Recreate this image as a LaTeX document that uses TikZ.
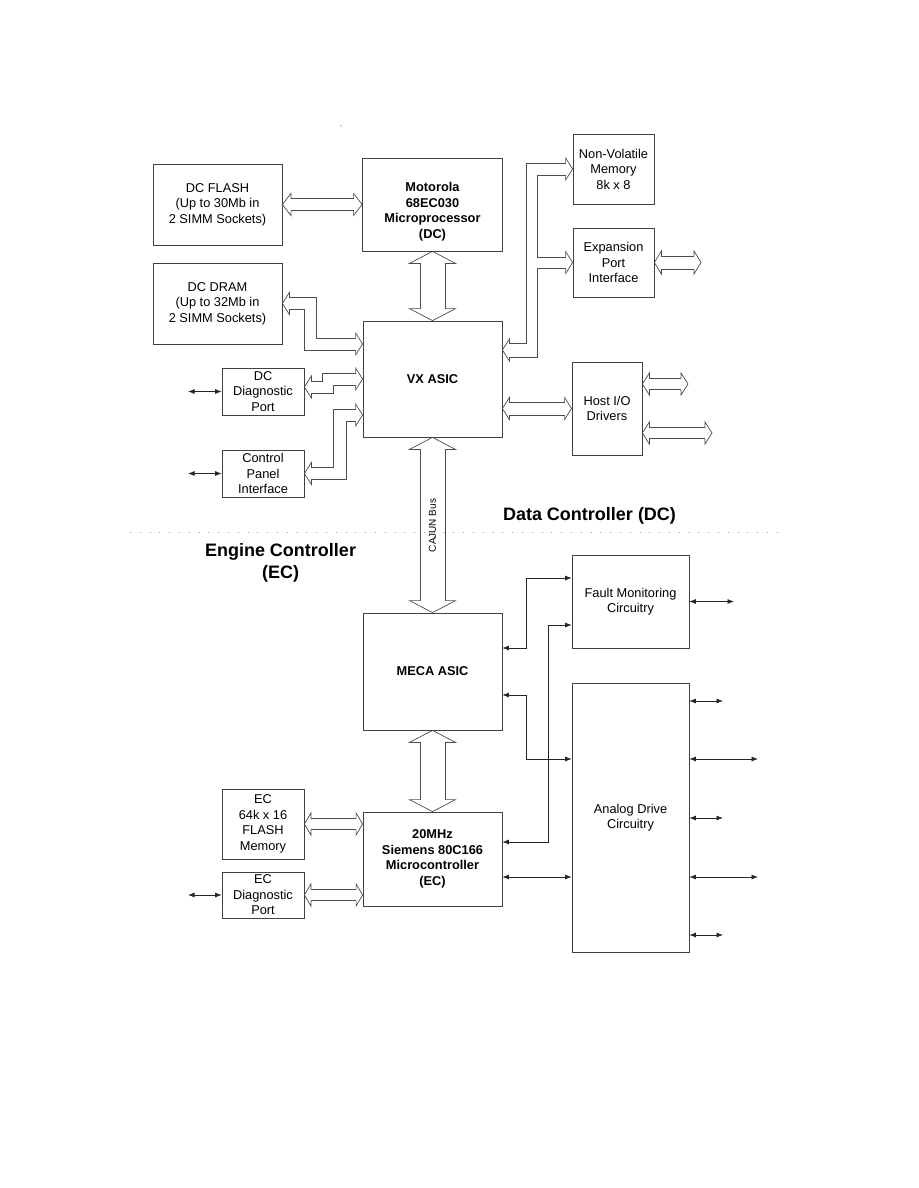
\documentclass[tikz,border=0pt]{standalone}
\usepackage{fontspec}
\setmainfont{Liberation Sans}
\usetikzlibrary{arrows.meta,calc}
\newcommand\hhead[5]{\begin{scope}[shift={(#1)},rotate=#2]\draw[bus] (-#5,#3)--(-#5,#4)--(0,0)--(-#5,-#4)--(-#5,-#3);\end{scope}}
\tikzset{
 box/.style={draw=black!75, line width=0.8pt, align=center, inner sep=0pt, font=\fontsize{12.8}{15.5}\selectfont},
 txt/.style={align=center, inner sep=0pt, font=\fontsize{12.8}{15.5}\selectfont\bfseries},
 bus/.style={draw=black!70, line width=0.7pt, line join=miter},
 sig/.style={draw=black!85, line width=0.7pt, {Latex[length=6.5pt,width=5pt]}-{Latex[length=6.5pt,width=5pt]}},
 head/.style={align=center, inner sep=0pt, font=\fontsize{18}{22}\selectfont\bfseries},
}
\begin{document}
\begin{tikzpicture}[x=1pt,y=1pt]
\fill[white] (0,0) rectangle (918,-1188);
\useasboundingbox (0,0) rectangle (918,-1188);
% stray dot
\fill[black!70] (341,-126) circle (0.7);
% boxes
\node[box, minimum width=129pt, minimum height=81pt] (flash) at (217.5,-204.5) {DC FLASH\\(Up to 30Mb in\\2 SIMM Sockets)};
\node[box, minimum width=140pt, minimum height=93pt] (moto) at (432.5,-204.5) {};
\node[txt] (mototxt) at ([yshift=-7pt]moto.center) {Motorola\\68EC030\\Microprocessor\\(DC)};
\node[box, minimum width=129pt, minimum height=81pt] (dram) at (217.5,-303.5) {DC DRAM\\(Up to 32Mb in\\2 SIMM Sockets)};
\node[box, minimum width=139pt, minimum height=116pt, font=\fontsize{12.8}{15.5}\selectfont\bfseries] (vx) at (432.5,-379) {VX ASIC};
\node[box, minimum width=82pt, minimum height=47pt] (diag) at (263,-391.5) {DC\\Diagnostic\\Port};
\node[box, minimum width=82pt, minimum height=47pt] (cp) at (263,-473.5) {Control\\Panel\\Interface};
\node[box, minimum width=81pt, minimum height=70pt] (nvm) at (613.5,-169) {Non-Volatile\\Memory\\8k x 8};
\node[box, minimum width=81pt, minimum height=69pt] (exp) at (613.5,-262.5) {Expansion\\Port\\Interface};
\node[box, minimum width=70pt, minimum height=93pt] (host) at (607,-408.5) {Host I/O\\Drivers};
\node[box, minimum width=117pt, minimum height=93pt] (fault) at (630.5,-601.5) {Fault Monitoring\\Circuitry};
\node[box, minimum width=139pt, minimum height=117pt, font=\fontsize{12.8}{15.5}\selectfont\bfseries] (meca) at (432.5,-671.5) {MECA ASIC};
\node[box, minimum width=117pt, minimum height=269pt] (analog) at (630.5,-817.5) {Analog Drive\\Circuitry};
\node[box, minimum width=139pt, minimum height=94pt, font=\fontsize{12.8}{15.5}\selectfont\bfseries] (siem) at (432.5,-859) {20MHz\\Siemens 80C166\\Microcontroller\\(EC)};
\node[box, minimum width=82pt, minimum height=70pt] (ecflash) at (263,-824) {EC\\64k x 16\\FLASH\\Memory};
\node[box, minimum width=82pt, minimum height=46pt] (ecdiag) at (263,-895) {EC\\Diagnostic\\Port};
% free ends
\coordinate (expout) at (701,-262.5);
\coordinate (hostout1) at (688,-384);
\coordinate (hostout2) at (712,-433);
\coordinate (diagout) at (188,-391.5);
\coordinate (cpout) at (188,-473.5);
\coordinate (ecdiagout) at (188,-895);
\coordinate (faultout) at (734,-601.5);
\coordinate (a1) at (723,-701);
\coordinate (a2) at (758,-759);
\coordinate (a3) at (723,-818);
\coordinate (a4) at (758,-877);
\coordinate (a5) at (723,-935);
% flash <-> moto
\draw[bus] ([shift={(8.5,6)}]flash.east) -- ([shift={(-8.5,6)}]moto.west);
\draw[bus] ([shift={(8.5,-6)}]flash.east) -- ([shift={(-8.5,-6)}]moto.west);
\hhead{flash.east}{180}{6}{11}{8.5}
\hhead{moto.west}{0}{6}{11}{8.5}
% moto <-> vx
\draw[bus] ([shift={(-12.5,-12)}]moto.south) -- ([shift={(-12.5,12)}]vx.north);
\draw[bus] ([shift={(12.5,-12)}]moto.south) -- ([shift={(12.5,12)}]vx.north);
\hhead{moto.south}{90}{12.5}{23}{12}
\hhead{vx.north}{-90}{12.5}{23}{12}
% vx <-> meca (CAJUN bus)
\draw[bus] ([shift={(-12.5,-12)}]vx.south) -- ([shift={(-12.5,12)}]meca.north);
\draw[bus] ([shift={(12.5,-12)}]vx.south) -- ([shift={(12.5,12)}]meca.north);
\hhead{vx.south}{90}{12.5}{23}{12}
\hhead{meca.north}{-90}{12.5}{23}{12}
\node[rotate=90, inner sep=0pt, font=\fontsize{10}{12}\selectfont] (cajun) at (432.5,-525.5) {CAJUN Bus};
% meca <-> siem
\draw[bus] ([shift={(-12.5,-12)}]meca.south) -- ([shift={(-12.5,12)}]siem.north);
\draw[bus] ([shift={(12.5,-12)}]meca.south) -- ([shift={(12.5,12)}]siem.north);
\hhead{meca.south}{90}{12.5}{23}{12}
\hhead{siem.north}{-90}{12.5}{23}{12}
% dram <-> vx
\draw[bus] ([shift={(7,6)}]dram.east) -- ++(27,0) |- ([shift={(-7,41)}]vx.west);
\draw[bus] ([shift={(7,-6)}]dram.east) -- ++(15,0) |- ([shift={(-7,29)}]vx.west);
\hhead{dram.east}{180}{6}{11}{7}
\hhead{[yshift=35pt]vx.west}{0}{6}{11}{7}
% diag <-> vx
\draw[bus] ([shift={(7,10.5)}]diag.east) -- ++(11,0) |- ([shift={(-7,6)}]vx.west);
\draw[bus] ([shift={(7,-1.5)}]diag.east) -- ++(22,0) |- ([shift={(-7,-6)}]vx.west);
\hhead{[yshift=4.5pt]diag.east}{180}{6}{11}{7}
\hhead{vx.west}{0}{6}{11}{7}
% cp <-> vx
\draw[bus] ([shift={(7,6)}]cp.east) -- ++(22,0) |- ([shift={(-7,-30)}]vx.west);
\draw[bus] ([shift={(7,-6)}]cp.east) -- ++(35,0) |- ([shift={(-7,-42)}]vx.west);
\hhead{cp.east}{180}{6}{11}{7}
\hhead{[yshift=-36pt]vx.west}{0}{6}{11}{7}
% vx <-> nvm / exp
\draw[bus] ([shift={(7,36)}]vx.east) -- ++(17,0) |- ([shift={(-7,6)}]nvm.west);
\draw[bus] ([shift={(-7,-6)}]nvm.west) -- ++(-28,0) |- ([shift={(-7,5.5)}]exp.west);
\draw[bus] ([shift={(-7,-5.5)}]exp.west) -- ++(-28,0) |- ([shift={(7,22)}]vx.east);
\hhead{[yshift=29pt]vx.east}{180}{7}{11}{7}
\hhead{nvm.west}{0}{6}{11}{7}
\hhead{exp.west}{0}{5.5}{11}{7}
% exp <-> out
\draw[bus] ([shift={(7,6.5)}]exp.east) -- ([shift={(-7,6.5)}]expout);
\draw[bus] ([shift={(7,-6.5)}]exp.east) -- ([shift={(-7,-6.5)}]expout);
\hhead{exp.east}{180}{6.5}{11.5}{7}
\hhead{expout}{0}{6.5}{11.5}{7}
% vx <-> host
\draw[bus] ([shift={(7,-23)}]vx.east) -- ([shift={(-7,6.5)}]host.west);
\draw[bus] ([shift={(7,-36)}]vx.east) -- ([shift={(-7,-6.5)}]host.west);
\hhead{[yshift=-29.5pt]vx.east}{180}{6.5}{11}{7}
\hhead{host.west}{0}{6.5}{11}{7}
% host <-> outs
\draw[bus] ([shift={(7,30)}]host.east) -- ([shift={(-7,5.5)}]hostout1);
\draw[bus] ([shift={(7,19)}]host.east) -- ([shift={(-7,-5.5)}]hostout1);
\hhead{[yshift=24.5pt]host.east}{180}{5.5}{11}{7}
\hhead{hostout1}{0}{5.5}{11}{7}
\draw[bus] ([shift={(7,-19)}]host.east) -- ([shift={(-7,5.5)}]hostout2);
\draw[bus] ([shift={(7,-30)}]host.east) -- ([shift={(-7,-5.5)}]hostout2);
\hhead{[yshift=-24.5pt]host.east}{180}{5.5}{11}{7}
\hhead{hostout2}{0}{5.5}{11}{7}
% ecflash <-> siem
\draw[bus] ([shift={(6.5,5.5)}]ecflash.east) -- ([shift={(-6.5,40.5)}]siem.west);
\draw[bus] ([shift={(6.5,-5.5)}]ecflash.east) -- ([shift={(-6.5,29.5)}]siem.west);
\hhead{ecflash.east}{180}{5.5}{11}{6.5}
\hhead{[yshift=35pt]siem.west}{0}{5.5}{11}{6.5}
% ecdiag <-> siem
\draw[bus] ([shift={(6.5,5.5)}]ecdiag.east) -- ([shift={(-6.5,-30.5)}]siem.west);
\draw[bus] ([shift={(6.5,-5.5)}]ecdiag.east) -- ([shift={(-6.5,-41.5)}]siem.west);
\hhead{ecdiag.east}{180}{5.5}{11}{6.5}
\hhead{[yshift=-36pt]siem.west}{0}{5.5}{11}{6.5}
% thin signal arrows
\draw[sig] (diagout) -- (diag.west);
\draw[sig] (cpout) -- (cp.west);
\draw[sig] (ecdiagout) -- (ecdiag.west);
\draw[sig] (fault.east) -- (faultout);
\draw[sig] (analog.east |- a1) -- (a1);
\draw[sig] (analog.east |- a2) -- (a2);
\draw[sig] (analog.east |- a3) -- (a3);
\draw[sig] (analog.east |- a4) -- (a4);
\draw[sig] (analog.east |- a5) -- (a5);
\draw[sig] ([yshift=23.5pt]meca.east) -- ++(24,0) |- ([yshift=23.5pt]fault.west);
\draw[sig] ([yshift=-23.5pt]meca.east) -- ++(24,0) |- ([yshift=58.5pt]analog.west);
\draw[sig] ([yshift=17pt]siem.east) -- ++(46,0) |- ([yshift=-23.5pt]fault.west);
\draw[sig] ([yshift=-18pt]siem.east) -- ([yshift=-59.5pt]analog.west);
% separator and headings
\draw[black!40, line width=0.8pt, dash pattern=on 0.8pt off 9pt] (130,-532) -- (780,-532);
\node[head] (dctitle) at (589.5,-516) {Data Controller (DC)};
\node[head] (ectitle) at (280.5,-562.5) {Engine Controller\\(EC)};
\end{tikzpicture}
\end{document}
